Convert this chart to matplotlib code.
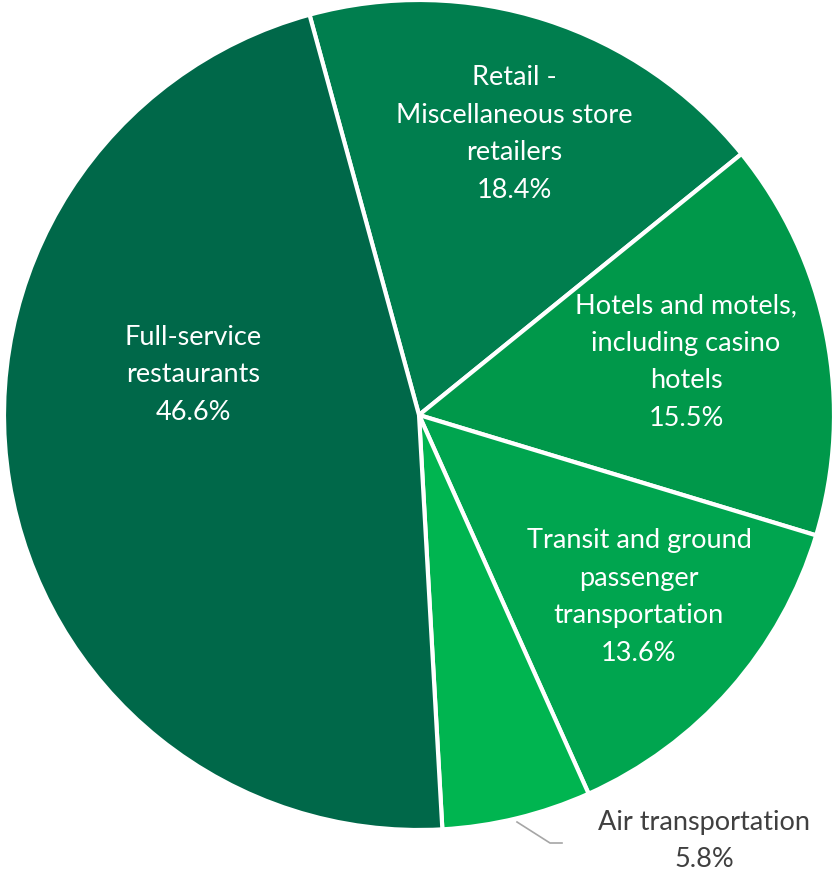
import matplotlib.pyplot as plt

# slices, clockwise from the top
labels = ['Retail -\nMiscellaneous store\nretailers',
          'Hotels and motels,\nincluding casino\nhotels',
          'Transit and ground\npassenger\ntransportation',
          'Air transportation',
          'Full-service\nrestaurants']
shares = [18.4, 15.5, 13.6, 5.8, 46.6]
colors = ['#007E4E', '#00984A', '#00A54F', '#00B550', '#006849']

# label centres in pixel coords (y from top)
label_pos = [(514, 134), (686, 362), (639, 597), (704, 841), (193, 375)]
label_col = ['white', 'white', 'white', '#404040', 'white']

W, H = 836, 876
fig = plt.figure(figsize=(W / 100, H / 100), dpi=100)
ax = fig.add_axes([0, 0, 1, 1])

cx, cy, r = 419, H - 415, 415
ax.pie(shares, colors=colors, startangle=105.3, counterclock=False,
       center=(cx, cy), radius=r, frame=True,
       wedgeprops=dict(edgecolor='white', linewidth=3))
ax.set_xlim(0, W)
ax.set_ylim(0, H)
ax.axis('off')

for lab, val, (x, y), c in zip(labels, shares, label_pos, label_col):
    ax.text(x, H - y, f'{lab}\n{val}%', ha='center', va='center',
            color=c, fontsize=19.5, family='Lato', linespacing=1.62)

# leader line for the small slice
ax.plot([517, 550, 562], [H - 822, H - 843, H - 843], color='#A6A6A6', lw=1.2)

fig.savefig('out.png', dpi=100)
